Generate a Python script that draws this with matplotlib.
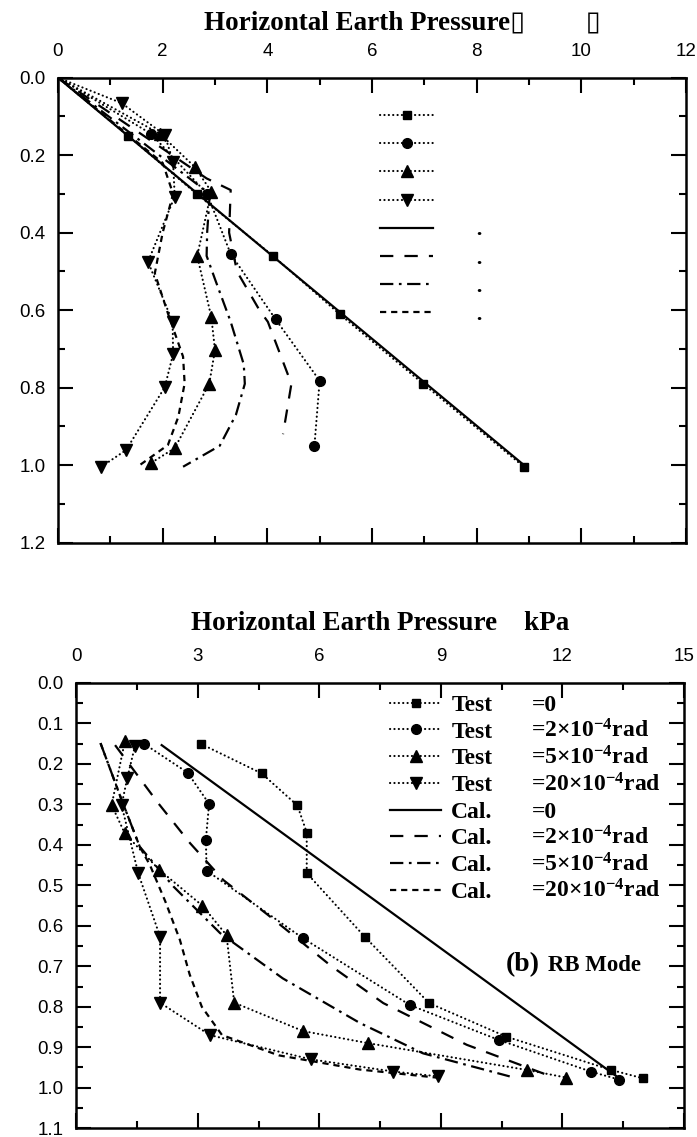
import numpy as np
import matplotlib
matplotlib.use('Agg')
import matplotlib.pyplot as plt
from matplotlib.lines import Line2D
from matplotlib.ticker import MultipleLocator, FormatStrFormatter

plt.rcParams['font.family'] = ['Liberation Sans', 'DejaVu Sans']
plt.rcParams['mathtext.fontset'] = 'custom'
plt.rcParams['mathtext.rm'] = 'Liberation Serif:bold'
plt.rcParams['mathtext.bf'] = 'Liberation Serif:bold'
plt.rcParams['mathtext.it'] = 'Liberation Serif:bold'

SERIF = ['Liberation Serif', 'DejaVu Sans']

# ============================================================
# DATA  (depth in m, pressure in kPa)
# ============================================================

# ---- top chart ----
a_t0_z = [0.0, 0.15, 0.30, 0.46, 0.61, 0.79, 1.005]
a_t0_p = [0.0, 1.34, 2.65, 4.11, 5.38, 6.98, 8.91]
a_t2_z = [0.0, 0.145, 0.30, 0.455, 0.624, 0.782, 0.95]
a_t2_p = [0.0, 1.78, 2.85, 3.30, 4.16, 5.00, 4.90]
a_t5_z = [0.0, 0.145, 0.23, 0.294, 0.46, 0.618, 0.703, 0.79, 0.956, 0.995]
a_t5_p = [0.0, 1.95, 2.61, 2.93, 2.66, 2.93, 3.00, 2.89, 2.23, 1.77]
a_t20_z = [0.0, 0.066, 0.148, 0.217, 0.307, 0.475, 0.630, 0.713, 0.799, 0.961, 1.004]
a_t20_p = [0.0, 1.22, 2.04, 2.20, 2.23, 1.72, 2.19, 2.20, 2.04, 1.30, 0.83]

a_c0_z = [0.0, 1.005]
a_c0_p = [0.0, 8.95]
a_c2_z = [0.0, 0.26, 0.29, 0.40, 0.50, 0.60, 0.63, 0.79, 0.92]
a_c2_p = [0.0, 2.84, 3.30, 3.27, 3.42, 3.85, 4.01, 4.46, 4.30]
a_c5_z = [0.0, 0.30, 0.40, 0.46, 0.52, 0.63, 0.74, 0.79, 0.87, 0.95, 1.004]
a_c5_p = [0.0, 2.90, 2.85, 2.84, 3.00, 3.30, 3.55, 3.57, 3.40, 3.09, 2.39]
a_c20_z = [0.0, 0.22, 0.30, 0.40, 0.505, 0.608, 0.72, 0.789, 0.875, 0.948, 1.0]
a_c20_p = [0.0, 2.00, 2.20, 2.00, 1.85, 2.10, 2.39, 2.42, 2.30, 2.10, 1.56]

# ---- bottom chart (RB mode) ----
b_t0_z = [0.151, 0.224, 0.303, 0.370, 0.470, 0.628, 0.791, 0.874, 0.956, 0.977]
b_t0_p = [3.08, 4.58, 5.46, 5.69, 5.69, 7.13, 8.71, 10.62, 13.2, 14.0]
b_t2_z = [0.151, 0.222, 0.299, 0.388, 0.464, 0.631, 0.796, 0.882, 0.960, 0.980]
b_t2_p = [1.68, 2.75, 3.28, 3.20, 3.22, 5.60, 8.24, 10.43, 12.7, 13.4]
b_t5_z = [0.145, 0.302, 0.372, 0.462, 0.550, 0.623, 0.79, 0.86, 0.89, 0.956, 0.975]
b_t5_p = [1.20, 0.875, 1.20, 2.05, 3.11, 3.71, 3.90, 5.60, 7.21, 11.12, 12.1]
b_t20_z = [0.156, 0.236, 0.302, 0.470, 0.627, 0.79, 0.87, 0.93, 0.960, 0.972]
b_t20_p = [1.45, 1.26, 1.12, 1.53, 2.07, 2.07, 3.30, 5.80, 7.83, 8.94]

b_c0_z = [0.154, 0.98]
b_c0_p = [2.11, 13.45]
b_c2_z = [0.154, 0.298, 0.396, 0.487, 0.577, 0.70, 0.791, 0.894, 0.975]
b_c2_p = [0.96, 2.03, 2.81, 3.63, 4.78, 6.30, 7.58, 9.64, 11.8]
b_c5_z = [0.149, 0.289, 0.405, 0.503, 0.618, 0.73, 0.84, 0.915, 0.972]
b_c5_p = [0.60, 1.12, 1.57, 2.40, 3.55, 5.10, 7.00, 8.56, 10.7]
b_c20_z = [0.149, 0.289, 0.405, 0.45, 0.54, 0.635, 0.72, 0.80, 0.87, 0.92, 0.955, 0.975]
b_c20_p = [0.60, 1.12, 1.57, 1.82, 2.20, 2.56, 2.80, 3.10, 3.60, 5.00, 7.00, 8.90]

test_labels = ['Test', 'Test', 'Test', 'Test']
cal_labels = ['Cal.', 'Cal.', 'Cal.', 'Cal.']
value_labels = ['=0', '=2×10$^{-4}$rad', '=5×10$^{-4}$rad', '=20×10$^{-4}$rad',
                '=0', '=2×10$^{-4}$rad', '=5×10$^{-4}$rad', '=20×10$^{-4}$rad']

# ============================================================
# STYLES
# ============================================================
DOT = dict(color='black', lw=1.5, linestyle=(0, (0.1, 2.0)), dash_capstyle='round')
MARKERS = [('s', 6), ('o', 7), ('^', 8.5), ('v', 8.5)]
CAL_STYLES = [
    dict(color='black', lw=1.6, linestyle='-'),
    dict(color='black', lw=1.6, linestyle=(0, (6, 5))),
    dict(color='black', lw=1.6, linestyle=(0, (6, 2.5, 1.2, 2.5))),
    dict(color='black', lw=1.6, linestyle=(0, (2.8, 2.2))),
]


def style_axes(ax, xmax, xmaj, xmin, ymax, ymaj, ymin, yfmt):
    ax.set_xlim(0, xmax)
    ax.set_ylim(ymax, 0)
    ax.xaxis.set_major_locator(MultipleLocator(xmaj))
    ax.xaxis.set_minor_locator(MultipleLocator(xmin))
    ax.yaxis.set_major_locator(MultipleLocator(ymaj))
    ax.yaxis.set_minor_locator(MultipleLocator(ymin))
    ax.yaxis.set_major_formatter(FormatStrFormatter(yfmt))
    ax.xaxis.set_major_formatter(FormatStrFormatter('%d'))
    ax.tick_params(which='both', direction='in', top=True, bottom=True,
                   left=True, right=True, labeltop=True, labelbottom=False,
                   labelsize=13.5, width=1.5)
    ax.tick_params(which='major', length=11)
    ax.tick_params(which='minor', length=5)
    ax.tick_params(axis='x', pad=13)
    ax.tick_params(axis='y', pad=9)
    for s in ax.spines.values():
        s.set_linewidth(1.8)


fig = plt.figure(figsize=(6.97, 11.37), dpi=100)
ax1 = fig.add_axes([0.0832, 0.5227, 0.9010, 0.4090])
ax2 = fig.add_axes([0.1093, 0.0077, 0.8720, 0.3918])

# ------------------------------------------------------------
# top chart
# ------------------------------------------------------------
tests_a = [(a_t0_p, a_t0_z), (a_t2_p, a_t2_z), (a_t5_p, a_t5_z), (a_t20_p, a_t20_z)]
cals_a = [(a_c0_p, a_c0_z), (a_c2_p, a_c2_z), (a_c5_p, a_c5_z), (a_c20_p, a_c20_z)]

for (p, z), st in zip(cals_a, CAL_STYLES):
    ax1.plot(p, z, **st)
for (p, z), (m, ms) in zip(tests_a, MARKERS):
    ax1.plot(p, z, marker=m, ms=ms, mfc='black', mec='black',
             markevery=list(range(1, len(p))), **DOT)

style_axes(ax1, 12, 2, 1, 1.2, 0.2, 0.1, '%.1f')

handles = [Line2D([], [], marker=m, ms=ms, mfc='black', mec='black', **DOT)
           for m, ms in MARKERS]
handles += [Line2D([], [], **st) for st in CAL_STYLES]
leg1 = ax1.legend(handles, [' '] * 4 + ['      .'] * 4, loc='upper left',
                  bbox_to_anchor=(0.513, 0.936), frameon=False, borderpad=0,
                  borderaxespad=0, handlelength=2.4, handletextpad=0.45,
                  labelspacing=0.34, numpoints=1,
                  prop=dict(family=SERIF, weight='bold', size=16))

fig.text(204 / 697, 1 - 23 / 1137, 'Horizontal Earth Pressure\u25af         \u25af',
         ha='left', va='center', fontsize=19.5, fontweight='bold', family=SERIF)

# ------------------------------------------------------------
# bottom chart
# ------------------------------------------------------------
tests_b = [(b_t0_p, b_t0_z), (b_t2_p, b_t2_z), (b_t5_p, b_t5_z), (b_t20_p, b_t20_z)]
cals_b = [(b_c0_p, b_c0_z), (b_c2_p, b_c2_z), (b_c5_p, b_c5_z), (b_c20_p, b_c20_z)]

for (p, z), st in zip(cals_b, CAL_STYLES):
    ax2.plot(p, z, **st)
for (p, z), (m, ms) in zip(tests_b, MARKERS):
    ax2.plot(p, z, marker=m, ms=ms, mfc='black', mec='black', **DOT)

style_axes(ax2, 15, 3, 1.5, 1.1, 0.1, 0.05, '%.1f')

leg2 = ax2.legend(handles, test_labels + cal_labels, loc='upper left',
                  bbox_to_anchor=(0.517, 0.974), frameon=False, borderpad=0,
                  borderaxespad=0, handlelength=2.16, handletextpad=0.42,
                  labelspacing=0.22, numpoints=1,
                  prop=dict(family=SERIF, weight='bold', size=17))

ax2.text(0.5, 1.134, 'Horizontal Earth Pressure    kPa', transform=ax2.transAxes,
         ha='center', va='center', fontsize=19.5, fontweight='bold', family=SERIF)

ax2.text(0.707, 0.352, '(b)', transform=ax2.transAxes, ha='left', va='baseline',
         fontsize=20, fontweight='bold', family=SERIF)
ax2.text(0.777, 0.352, 'RB Mode', transform=ax2.transAxes, ha='left', va='baseline',
         fontsize=16.5, fontweight='bold', family=SERIF)

# value column aligned with the legend rows
fig.canvas.draw()
inv = ax2.transAxes.inverted()
for t, lab in zip(leg2.get_texts(), value_labels):
    xd, yd = t.get_transform().transform(t.get_position())
    _, ya = inv.transform((xd, yd))
    ax2.text(0.749, ya, lab, transform=ax2.transAxes, ha='left', va='baseline',
             fontsize=17, fontweight='bold', family=SERIF)

fig.savefig('out.png', dpi=100)
